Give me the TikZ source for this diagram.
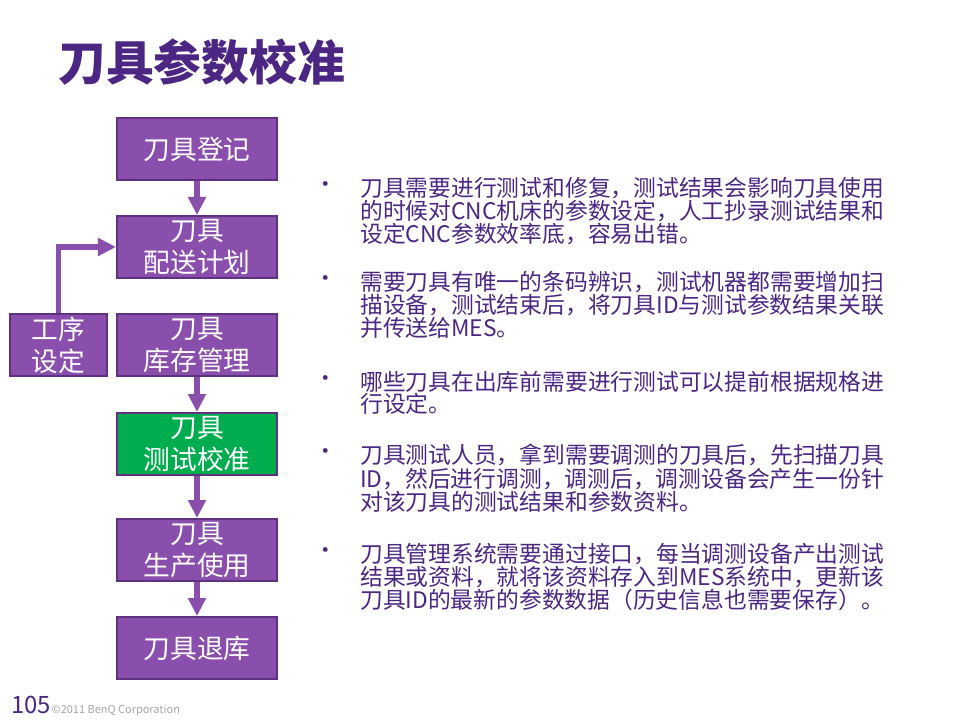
\documentclass[tikz,border=0pt]{standalone}
\usepackage{fontspec}
\usepackage{xcolor}
\usepackage{tikz}
\usetikzlibrary{arrows.meta}
\newfontfamily\cjk{Noto Sans CJK SC}
\definecolor{boxpurple}{HTML}{8A4FAD}
\definecolor{edgepurple}{HTML}{5E3281}
\definecolor{textpurple}{HTML}{4B2683}
\definecolor{testgreen}{HTML}{00AD4E}

\begin{document}
\begin{tikzpicture}[x=0.025cm, y=-0.025cm,
  stagebox/.style={draw=edgepurple, line width=1.4pt, fill=boxpurple, text=white,
    minimum width=4cm, minimum height=1.55cm, inner sep=0pt, align=center,
    font=\cjk\fontsize{19}{22.8}\selectfont},
  flow/.style={-{Triangle[width=0.43cm,length=0.45cm]}, boxpurple, line width=3.6pt},
  bullettext/.style={anchor=north west, inner sep=0pt, align=left, text=textpurple,
    font=\cjk\fontsize{16.2}{15.3}\selectfont},
  dot/.style={inner sep=0pt, text=textpurple, font=\cjk\fontsize{16}{16}\selectfont}]
\useasboundingbox[fill=white] (0,0) rectangle (960,720);

% Title
\node[anchor=base west, inner sep=0pt, text=textpurple, font=\cjk\bfseries\fontsize{34}{34}\selectfont]
  (title) at (58,81) {刀具参数校准};

% Flow of stages
\node[stagebox] (dj) at (197,149) {刀具登记};
\node[stagebox] (ps) at (197,247) {刀具\\配送计划};
\node[stagebox] (kc) at (197,345) {刀具\\库存管理};
\node[stagebox, minimum width=2.43cm] (gx) at (58.5,345) {工序\\设定};
\node[stagebox, fill=testgreen] (cs) at (197,444) {刀具\\测试校准};
\node[stagebox] (sc) at (197,550) {刀具\\生产使用};
\node[stagebox] (tk) at (197,648) {刀具退库};

\draw[flow] (dj.south) -- (ps.north);
\draw[flow] (gx.north) |- (ps.west);
\draw[flow] (kc.south) -- (cs.north);
\draw[flow] (cs.south) -- (sc.north);
\draw[flow] (sc.south) -- (tk.north);

% Notes
\node[dot] (d1) at (326,187) {•};
\node[bullettext] (n1) at (360,177) {刀具需要进行测试和修复，测试结果会影响刀具使用\\的时候对CNC机床的参数设定，人工抄录测试结果和\\设定CNC参数效率底，容易出错。};
\node[dot] (d2) at (326,281) {•};
\node[bullettext] (n2) at (360,271) {需要刀具有唯一的条码辨识，测试机器都需要增加扫\\描设备，测试结束后，将刀具ID与测试参数结果关联\\并传送给MES。};
\node[dot] (d3) at (326,381) {•};
\node[bullettext] (n3) at (360,371) {哪些刀具在出库前需要进行测试可以提前根据规格进\\行设定。};
\node[dot] (d4) at (326,454) {•};
\node[bullettext] (n4) at (360,444) {刀具测试人员，拿到需要调测的刀具后，先扫描刀具\\ID，然后进行调测，调测后，调测设备会产生一份针\\对该刀具的测试结果和参数资料。};
\node[dot] (d5) at (326,553) {•};
\node[bullettext] (n5) at (360,543) {刀具管理系统需要通过接口，每当调测设备产出测试\\结果或资料，就将该资料存入到MES系统中，更新该\\刀具ID的最新的参数数据（历史信息也需要保存）。};

% Footer
\node[anchor=base west, inner sep=0pt, text=textpurple, font=\cjk\fontsize{17}{17}\selectfont]
  (pg) at (11,713) {105};
\node[anchor=base west, inner sep=0pt, text=gray!70, font=\cjk\fontsize{7.8}{7.8}\selectfont]
  (corp) at (pg.base east) {©2011 BenQ Corporation};
\end{tikzpicture}
\end{document}
